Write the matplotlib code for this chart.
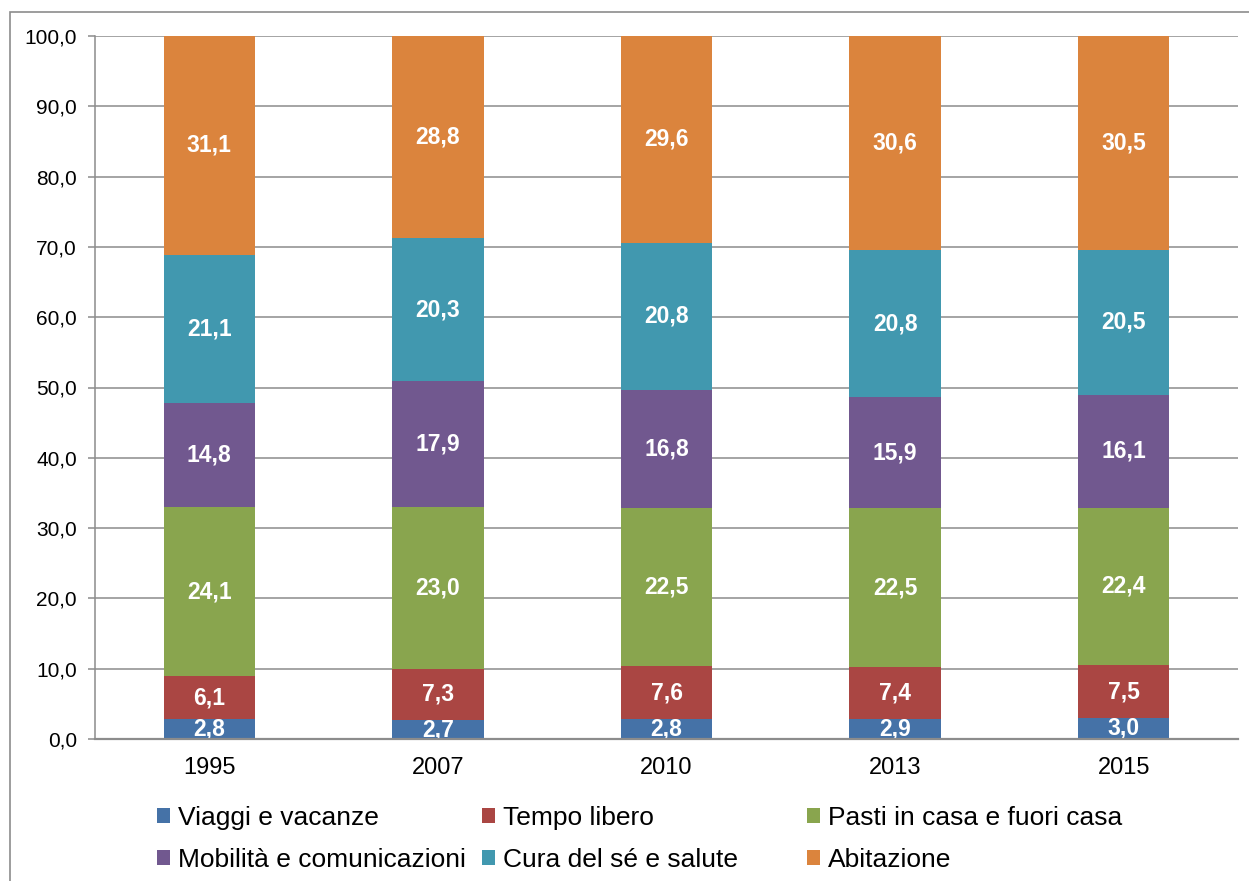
import matplotlib.pyplot as plt
import numpy as np
from matplotlib.patches import Rectangle, Patch

plt.rcParams['font.family'] = ['Liberation Sans', 'DejaVu Sans']

years = ['1995', '2007', '2010', '2013', '2015']
series_names = ['Viaggi e vacanze', 'Tempo libero', 'Pasti in casa e fuori casa',
                'Mobilità e comunicazioni', 'Cura del sé e salute', 'Abitazione']
viaggi = [2.8, 2.7, 2.8, 2.9, 3.0]
tempo = [6.1, 7.3, 7.6, 7.4, 7.5]
pasti = [24.1, 23.0, 22.5, 22.5, 22.4]
mobilita = [14.8, 17.9, 16.8, 15.9, 16.1]
cura = [21.1, 20.3, 20.8, 20.8, 20.5]
abitazione = [31.1, 28.8, 29.6, 30.6, 30.5]
colors = ['#4572A7', '#AA4643', '#89A54E', '#71588F', '#4198AF', '#DB843D']

data = [viaggi, tempo, pasti, mobilita, cura, abitazione]

fig = plt.figure(figsize=(12.49, 8.81), dpi=100)
ax = fig.add_axes([95/1249, 1-739/881, (1238-95)/1249, (739-36)/881])

# frame around the chart (cut at right/bottom like the original)
fig.patches.append(Rectangle((10/1249, -0.1), 1.2, 1-12/881+0.1, transform=fig.transFigure,
                             fill=False, edgecolor='#8c8c8c', linewidth=1.2))

x = np.arange(len(years))
bottom = np.zeros(len(years))
for vals, col in zip(data, colors):
    vals = np.array(vals)
    ax.bar(x, vals, 0.40, bottom=bottom, color=col, zorder=3)
    for xi, b, v in zip(x, bottom, vals):
        ax.text(xi, b + v/2, f'{v:.1f}'.replace('.', ','), ha='center', va='center',
                color='white', fontsize=16.5, fontweight='bold', zorder=4)
    bottom += vals

ax.set_xlim(-0.5, 4.5)
ax.set_ylim(0, 100)
ax.set_yticks(np.arange(0, 101, 10))
ax.set_yticklabels([f'{v:.1f}'.replace('.', ',') for v in np.arange(0, 101, 10)], fontsize=15)
ax.set_xticks(x)
ax.set_xticklabels(years, fontsize=17)
ax.tick_params(axis='x', length=0, pad=13)
ax.tick_params(axis='y', length=5, width=1.1, color='#8c8c8c', pad=8)
ax.grid(axis='y', color='#8c8c8c', linewidth=1.1, zorder=0)
for s in ['top', 'right']:
    ax.spines[s].set_visible(False)
for s in ['left', 'bottom']:
    ax.spines[s].set_color('#8c8c8c')
    ax.spines[s].set_linewidth(1.1)
ax.spines['bottom'].set_linewidth(1.6)
ax.spines['bottom'].set_zorder(5)

# legend in three columns, two rows
col_x = [157, 482, 807]
for c in range(3):
    idx = [c, c + 3]
    handles = [Patch(facecolor=colors[i]) for i in idx]
    fig.legend(handles, [series_names[i] for i in idx], loc='upper left',
               bbox_to_anchor=(col_x[c]/1249, 1-806/881), frameon=False,
               fontsize=19, handlelength=0.5, handleheight=0.5, handletextpad=0.3,
               labelspacing=0.68, borderaxespad=0, borderpad=0)

fig.savefig('out.png', dpi=100)
